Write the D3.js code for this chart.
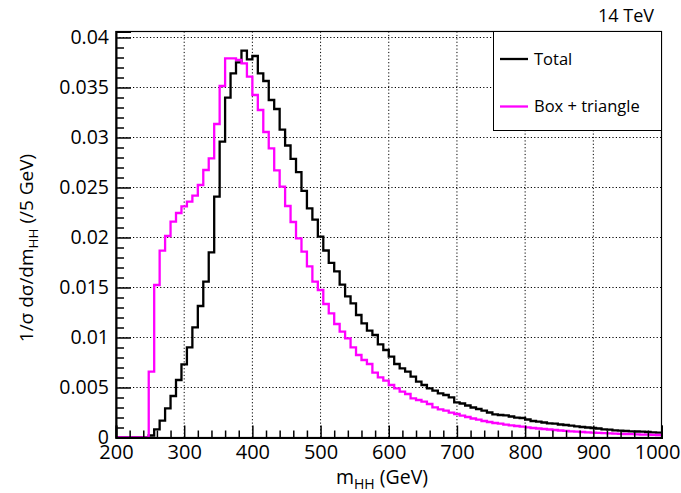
<!DOCTYPE html>
<html>
<head>
<meta charset="utf-8">
<script src="https://cdn.jsdelivr.net/npm/d3@7"></script>
<style>
  html, body { margin: 0; padding: 0; background: #fff; }
  svg { display: block; font-family: "Open Sans", "Noto Sans", sans-serif; }
</style>
</head>
<body>
<svg id="chart" width="681" height="493"></svg>
<script>
// m_HH histogram: 100 bins of 8 GeV from 200 to 1000 GeV
const binEdges = d3.range(200, 1001, 8);

// Normalised distribution, all contributions
const totalValues = [
  0, 0, 0, 0, 0, 0, 0.0002, 0.00082, 0.00168, 0.00292,
  0.00415, 0.00575, 0.00732, 0.00902, 0.01102, 0.01315, 0.01558, 0.01852, 0.02408, 0.02958,
  0.03398, 0.03642, 0.03752, 0.03868, 0.03782, 0.03815, 0.03642, 0.03565, 0.03375, 0.03285,
  0.03078, 0.02920, 0.02787, 0.02653, 0.02466, 0.02292, 0.02178, 0.02008, 0.01870, 0.01747,
  0.01662, 0.01528, 0.01412, 0.01342, 0.01225, 0.01142, 0.01068, 0.01025, 0.00932, 0.00875,
  0.00808, 0.00735, 0.00692, 0.00658, 0.00608, 0.00558, 0.00525, 0.00492, 0.00468, 0.00442,
  0.00425, 0.00402, 0.00352, 0.00340, 0.00320, 0.00300, 0.00285, 0.00268, 0.00250, 0.00232,
  0.00225, 0.00222, 0.00210, 0.00198, 0.00195, 0.00180, 0.00165, 0.00158, 0.00150, 0.00142,
  0.00138, 0.00130, 0.00125, 0.00118, 0.00112, 0.00105, 0.00100, 0.00095, 0.00090, 0.00082,
  0.00078, 0.00072, 0.00068, 0.00065, 0.00062, 0.00060, 0.00058, 0.00055, 0.00052, 0.00048
];

// Normalised distribution, box + triangle diagrams only
const boxTriangleValues = [
  0, 0, 0, 0, 0, 0, 0.00658, 0.01525, 0.01868, 0.02015,
  0.02158, 0.02245, 0.02312, 0.02358, 0.02418, 0.02525, 0.02675, 0.02792, 0.03135, 0.03515,
  0.03792, 0.03792, 0.03775, 0.03742, 0.03608, 0.03425, 0.03275, 0.03055, 0.02892, 0.02672,
  0.02508, 0.02315, 0.02155, 0.01992, 0.01858, 0.01712, 0.01558, 0.01475, 0.01335, 0.01242,
  0.01135, 0.01058, 0.00992, 0.00902, 0.00825, 0.00775, 0.00735, 0.00648, 0.00602, 0.00568,
  0.00525, 0.00492, 0.00458, 0.00435, 0.00392, 0.00375, 0.00358, 0.00335, 0.00302, 0.00282,
  0.00268, 0.00248, 0.00235, 0.00218, 0.00205, 0.00190, 0.00178, 0.00165, 0.00155, 0.00145,
  0.00138, 0.00128, 0.00122, 0.00115, 0.00108, 0.00102, 0.00095, 0.00090, 0.00085, 0.00080,
  0.00075, 0.00070, 0.00066, 0.00062, 0.00058, 0.00055, 0.00052, 0.00049, 0.00046, 0.00043,
  0.00041, 0.00039, 0.00037, 0.00035, 0.00033, 0.00031, 0.00029, 0.00028, 0.00026, 0.00025
];

const xTickValues = [200, 300, 400, 500, 600, 700, 800, 900, 1000];
const yTickValues = [0, 0.005, 0.01, 0.015, 0.02, 0.025, 0.03, 0.035, 0.04];
const yTickLabels = ["0", "0.005", "0.01", "0.015", "0.02", "0.025", "0.03", "0.035", "0.04"];

const seriesNames = ["Total", "Box + triangle"];
const seriesColors = ["#000000", "#ff00ff"];

const svg = d3.select("#chart");
const margin = { left: 116, right: 661.5, top: 31.5, bottom: 437.5 };

const x = d3.scaleLinear().domain([200, 1000]).range([margin.left, margin.right]);
const y = d3.scaleLinear().domain([0, 0.0406]).range([margin.bottom, margin.top]);

// grid lines (dotted) at major ticks
const grid = svg.append("g").attr("stroke", "#000").attr("stroke-width", 1)
  .attr("stroke-dasharray", "1.2,2.2");
grid.selectAll("line.gx").data(xTickValues.slice(1, -1)).join("line")
  .attr("x1", d => x(d)).attr("x2", d => x(d))
  .attr("y1", margin.top).attr("y2", margin.bottom);
grid.selectAll("line.gy").data(yTickValues.slice(1)).join("line")
  .attr("x1", margin.left).attr("x2", margin.right)
  .attr("y1", d => y(d)).attr("y2", d => y(d));

// histogram outlines
const step = d3.line()
  .x(d => x(d[0]))
  .y(d => y(d[1]))
  .curve(d3.curveStepAfter);

function histPoints(values) {
  const pts = values.map((v, i) => [binEdges[i], v]);
  pts.push([binEdges[values.length], values[values.length - 1]]);
  return pts;
}

[totalValues, boxTriangleValues].forEach((vals, i) => {
  svg.append("path")
    .attr("d", step(histPoints(vals)))
    .attr("fill", "none")
    .attr("stroke", seriesColors[i])
    .attr("stroke-width", 2.3)
    .attr("stroke-linejoin", "miter");
});

// frame
svg.append("rect")
  .attr("x", margin.left).attr("y", margin.top)
  .attr("width", margin.right - margin.left)
  .attr("height", margin.bottom - margin.top)
  .attr("fill", "none").attr("stroke", "#000").attr("stroke-width", 1.2);

// axes (ticks point into the frame)
const xAxis = d3.axisBottom(x).tickValues(xTickValues).tickSize(-12).tickFormat(d3.format("d"));
const gx = svg.append("g").attr("transform", `translate(0,${margin.bottom})`).call(xAxis);
gx.select(".domain").attr("stroke-width", 2);
gx.selectAll(".tick line").attr("stroke-width", 1.5);
gx.selectAll(".tick text").attr("font-size", 20).attr("y", 7).attr("dy", "0.71em")
  .attr("font-family", "Open Sans").attr("fill", "#000");
gx.selectAll(".tick text").filter(d => d === 1000).attr("text-anchor", "end").attr("x", 18.5);

const xMinor = d3.axisBottom(x).tickValues(d3.range(200, 1001, 20).filter(v => v % 100 !== 0))
  .tickSize(-7).tickFormat("");
const gxm = svg.append("g").attr("transform", `translate(0,${margin.bottom})`).call(xMinor);
gxm.select(".domain").remove();
gxm.selectAll(".tick line").attr("stroke-width", 1.5);

const yAxis = d3.axisLeft(y).tickValues(yTickValues).tickSize(-15)
  .tickFormat((d, i) => yTickLabels[i]);
const gy = svg.append("g").attr("transform", `translate(${margin.left},0)`).call(yAxis);
gy.select(".domain").attr("stroke-width", 2);
gy.selectAll(".tick line").attr("stroke-width", 1.5);
gy.selectAll(".tick text").attr("font-size", 19.5).attr("x", -7)
  .attr("font-family", "Open Sans").attr("fill", "#000");

const yMinor = d3.axisLeft(y).tickValues(d3.range(0, 0.0406, 0.001).filter((v, i) => i % 5 !== 0))
  .tickSize(-8).tickFormat("");
const gym = svg.append("g").attr("transform", `translate(${margin.left},0)`).call(yMinor);
gym.select(".domain").remove();
gym.selectAll(".tick line").attr("stroke-width", 1.5);

// axis titles
const xTitle = svg.append("text")
  .attr("x", 382).attr("y", 484).attr("text-anchor", "middle")
  .attr("font-size", 19.5).attr("fill", "#000");
xTitle.append("tspan").text("m");
xTitle.append("tspan").attr("font-size", 14).attr("dy", 5).text("HH");
xTitle.append("tspan").attr("dy", -5).text(" (GeV)");

const yTitle = svg.append("text")
  .attr("transform", "translate(33,248) rotate(-90)")
  .attr("text-anchor", "middle").attr("font-size", 19).attr("fill", "#000");
yTitle.append("tspan").text("1/σ dσ/dm");
yTitle.append("tspan").attr("font-size", 13.5).attr("dy", 5).text("HH");
yTitle.append("tspan").attr("dy", -5).text(" (/5 GeV)");

// energy label
svg.append("text").attr("x", 654).attr("y", 21.5).attr("text-anchor", "end")
  .attr("font-size", 18).attr("fill", "#000").text("14 TeV");

// legend
const legend = svg.append("g");
legend.append("rect").attr("x", 493.5).attr("y", 31.5).attr("width", 168).attr("height", 99)
  .attr("fill", "#fff").attr("stroke", "#000").attr("stroke-width", 1);
const legendY = [59, 106.5];
seriesNames.forEach((name, i) => {
  legend.append("line").attr("x1", 500).attr("x2", 528)
    .attr("y1", legendY[i]).attr("y2", legendY[i])
    .attr("stroke", seriesColors[i]).attr("stroke-width", 2.3);
  legend.append("text").attr("x", 534).attr("y", legendY[i]).attr("dy", "0.35em")
    .attr("font-size", 16.5).attr("fill", "#000").text(name);
});
</script>
</body>
</html>
